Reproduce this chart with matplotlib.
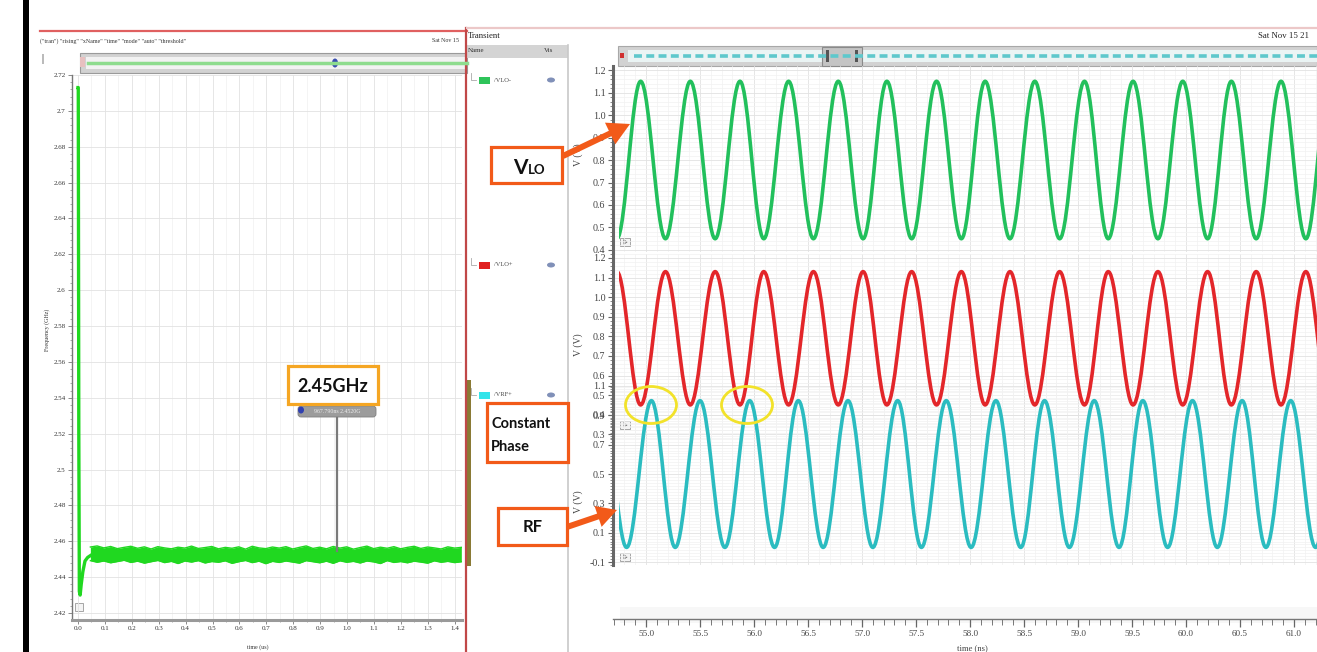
import numpy as np
import matplotlib
matplotlib.use("Agg")
import matplotlib.pyplot as plt
from matplotlib.patches import Rectangle, Ellipse, PathPatch, FancyArrow, FancyBboxPatch
from matplotlib.path import Path
from matplotlib.ticker import MultipleLocator

W, H = 1317, 652

# ---------------- data: left panel (frequency vs time, us) ----------------
freq_init_t = [0.000, 0.001, 0.003, 0.005, 0.008, 0.012, 0.018, 0.026, 0.036, 0.046]
freq_init_ghz = [2.713, 2.713, 2.520, 2.432, 2.430, 2.436, 2.443, 2.449, 2.451, 2.452]
band_upper_ghz = [2.4568, 2.4574, 2.4563, 2.4571, 2.4559, 2.4566, 2.4572, 2.4561, 2.4569, 2.4557,
                  2.4570, 2.4563, 2.4558, 2.4567, 2.4562, 2.4573, 2.4560, 2.4565, 2.4571, 2.4558,
                  2.4566, 2.4561, 2.4569, 2.4556, 2.4572, 2.4563, 2.4559, 2.4568, 2.4562, 2.4570,
                  2.4557, 2.4566, 2.4574, 2.4560, 2.4567, 2.4558, 2.4571, 2.4562, 2.4569, 2.4556,
                  2.4565, 2.4573, 2.4559, 2.4567, 2.4561, 2.4570, 2.4558, 2.4566, 2.4572, 2.4560,
                  2.4568, 2.4563, 2.4557, 2.4569, 2.4562, 2.4566]
band_lower_ghz = [2.4492, 2.4483, 2.4490, 2.4480, 2.4487, 2.4494, 2.4482, 2.4489, 2.4478, 2.4486,
                  2.4493, 2.4481, 2.4488, 2.4476, 2.4490, 2.4484, 2.4492, 2.4479, 2.4487, 2.4483,
                  2.4491, 2.4477, 2.4486, 2.4493, 2.4481, 2.4489, 2.4475, 2.4488, 2.4482, 2.4490,
                  2.4484, 2.4478, 2.4492, 2.4486, 2.4480, 2.4489, 2.4477, 2.4491, 2.4483, 2.4488,
                  2.4479, 2.4490, 2.4485, 2.4476, 2.4492, 2.4482, 2.4487, 2.4480, 2.4489, 2.4484,
                  2.4478, 2.4491, 2.4483, 2.4488, 2.4481, 2.4486]
band_t = np.linspace(0.046, 1.425, len(band_upper_ghz))
freq_yticks = [2.42, 2.44, 2.46, 2.48, 2.50, 2.52, 2.54, 2.56, 2.58, 2.60, 2.62, 2.64, 2.66, 2.68, 2.70, 2.72]
freq_ytick_labels = ["2.42", "2.44", "2.46", "2.48", "2.5", "2.52", "2.54", "2.56", "2.58", "2.6",
                     "2.62", "2.64", "2.66", "2.68", "2.7", "2.72"]
time_us_ticks = [0.0, 0.1, 0.2, 0.3, 0.4, 0.5, 0.6, 0.7, 0.8, 0.9, 1.0, 1.1, 1.2, 1.3, 1.4]
time_us_labels = ["0.0", "0.1", "0.2", "0.3", "0.4", "0.5", "0.6", "0.7", "0.8", "0.9",
                  "1.0", "1.1", "1.2", "1.3", "1.4"]

# ---------------- data: right panel (transient waveforms, ns) ----------------
vlo_minus_peak_t = [54.95, 55.41, 55.87, 56.32, 56.78, 57.23, 57.69, 58.14, 58.60, 59.06,
                    59.51, 59.97, 60.42, 60.88, 61.33]
vlo_minus_trough_t = [54.73, 55.18, 55.64, 56.09, 56.55, 57.01, 57.46, 57.92, 58.37, 58.83,
                      59.28, 59.74, 60.20, 60.65, 61.11]
vlo_minus_high, vlo_minus_low = 1.15, 0.45

vlo_plus_peak_t = [54.73, 55.18, 55.64, 56.09, 56.55, 57.01, 57.46, 57.92, 58.37, 58.83,
                   59.28, 59.74, 60.20, 60.65, 61.11]
vlo_plus_trough_t = [54.95, 55.41, 55.87, 56.32, 56.78, 57.23, 57.69, 58.14, 58.60, 59.06,
                     59.51, 59.97, 60.42, 60.88, 61.33]
vlo_plus_high, vlo_plus_low = 1.13, 0.45

vrf_peak_t = [54.59, 55.05, 55.50, 55.96, 56.41, 56.87, 57.33, 57.78, 58.24, 58.69,
              59.15, 59.60, 60.06, 60.52, 60.97, 61.43]
vrf_trough_t = [54.82, 55.27, 55.73, 56.19, 56.64, 57.10, 57.55, 58.01, 58.47, 58.92,
                59.38, 59.83, 60.29, 60.74, 61.20]
vrf_high, vrf_low = 1.00, 0.00

wave_start_t = 54.75
time_ns_ticks = [55.0, 55.5, 56.0, 56.5, 57.0, 57.5, 58.0, 58.5, 59.0, 59.5, 60.0, 60.5, 61.0]
time_ns_labels = ["55.0", "55.5", "56.0", "56.5", "57.0", "57.5", "58.0", "58.5", "59.0",
                  "59.5", "60.0", "60.5", "61.0"]
vlo_minus_yticks = [0.4, 0.5, 0.6, 0.7, 0.8, 0.9, 1.0, 1.1, 1.2]
vlo_plus_yticks = [0.3, 0.4, 0.5, 0.6, 0.7, 0.8, 0.9, 1.0, 1.1, 1.2]
vrf_yticks = [-0.1, 0.1, 0.3, 0.5, 0.7, 0.9, 1.1]

signal_names = ["/VLO-", "/VLO+", "/VRF+"]
signal_colors = ["#22c05c", "#e3262a", "#2bbcc0"]
legend_colors = ["#2ec45a", "#e02020", "#33e4ea"]

SERIF = "Liberation Serif"
BOLD = "Lato"
XLIM_NS = (54.694, 61.213)

fig = plt.figure(figsize=(W / 100, H / 100), dpi=100)
fig.patch.set_facecolor("white")


def px_axes(x0, y0, x1, y1):
    return fig.add_axes([x0 / W, 1 - y1 / H, (x1 - x0) / W, (y1 - y0) / H])


def overlay(z):
    a = px_axes(0, 0, W, H)
    a.set_xlim(0, W)
    a.set_ylim(H, 0)
    a.axis("off")
    a.set_zorder(z)
    a.patch.set_alpha(0)
    return a


bg = overlay(-5)
fg = overlay(10)

# ---------------- background decorations ----------------
bg.add_patch(Rectangle((23, 0), 6, H, fc="black", ec="none"))
bg.plot([40, 467], [31, 31], color="#e06060", lw=1.6)
bg.plot([466, 466], [28, H], color="#c04848", lw=1.6)
bg.add_patch(Rectangle((467, 380), 4, 186, fc="#8a7a35", ec="none"))
bg.text(40, 41, '("tran") "rising" "xName" "time" "mode" "auto" "threshold"', fontsize=4.3,
        family=SERIF, va="center", color="#333")
bg.text(432, 41, "Sat Nov 15", fontsize=4.3, family=SERIF, va="center", color="#333")
bg.add_patch(Rectangle((42, 54), 2, 10, fc="#bbbbbb", ec="none"))
# left scrollbar
bg.add_patch(Rectangle((80, 53), 387, 20, fc="#d2d2d2", ec="#9a9a9a", lw=0.8))
bg.add_patch(Rectangle((86, 57), 381, 12, fc="#f2f2f2", ec="none"))
bg.plot([88, 467], [63, 63], color="#8edc8e", lw=2.5)
bg.add_patch(Rectangle((80, 57), 5, 10, fc="#e8c0c0", ec="none"))
bg.add_patch(Ellipse((335, 63), 6, 9, fc="#3a4fb0", ec="none"))

# right panel frame
bg.plot([467, W], [28, 28], color="#ecc8c8", lw=1.6)
bg.text(468, 36, "Transient", fontsize=6.3, family=SERIF, va="center", color="#222")
bg.text(1258, 36, "Sat Nov 15 21", fontsize=6.3, family=SERIF, va="center", color="#222")
bg.add_patch(Rectangle((466, 45), 102, 13, fc="#d4d4d4", ec="none"))
bg.text(468, 51, "Name", fontsize=5, family=SERIF, va="center", color="#333")
bg.text(544, 51, "Vis", fontsize=5, family=SERIF, va="center", color="#333")
bg.plot([568, 568], [45, H], color="#c8c8c8", lw=1.2)
for name, col, yy in zip(signal_names, legend_colors, [80, 265, 395]):
    bg.plot([471, 471, 476], [yy - 7, yy, yy], color="#aaaaaa", lw=0.6)
    bg.add_patch(Rectangle((479, yy - 3.5), 11, 7, fc=col, ec="none"))
    bg.text(494, yy, name, fontsize=4.6, family=SERIF, va="center", color="#444")
    bg.add_patch(Ellipse((551, yy), 8, 5, fc="#8090b8", ec="none"))

# right scrollbar
bg.add_patch(Rectangle((618, 46), 699, 20, fc="#d2d2d2", ec="#a8a8a8", lw=0.8))
bg.add_patch(Rectangle((628, 50), 689, 12, fc="#eaf4f4", ec="none"))
bg.plot([634, W], [56, 56], color="#5ec8cc", lw=2.6, dashes=(2.2, 1.2))
bg.add_patch(Rectangle((822, 47), 40, 19, fc="#c4c4c4", ec="#8a8a8a", lw=0.8))
bg.add_patch(Rectangle((826, 50), 3, 12, fc="#555", ec="none"))
bg.add_patch(Rectangle((855, 50), 3, 12, fc="#555", ec="none"))
bg.add_patch(Rectangle((620, 53), 4, 5, fc="#d03030", ec="none"))
# faint ruler band
bg.add_patch(Rectangle((620, 607), W - 620, 16, fc="#f7f7f7", ec="none"))

# ---------------- left frequency plot ----------------
axL = px_axes(72, 75, 462, 620)
axL.set_facecolor("none")
axL.set_xlim(-0.0223, 1.4275)
axL.set_ylim(2.4161, 2.72)
axL.set_xticks(time_us_ticks)
axL.set_xticklabels(time_us_labels)
axL.set_yticks(freq_yticks)
axL.set_yticklabels(freq_ytick_labels)
axL.xaxis.set_minor_locator(MultipleLocator(0.05))
axL.yaxis.set_minor_locator(MultipleLocator(0.004))
axL.set_axisbelow(True)
axL.grid(which="major", color="#e2e2e2", lw=0.6)
axL.grid(which="minor", axis="x", color="#f0f0f0", lw=0.5)
for s in ["top", "right"]:
    axL.spines[s].set_visible(False)
axL.spines["left"].set_color("#777")
axL.spines["left"].set_linewidth(1.0)
axL.spines["bottom"].set_color("#9a9a9a")
axL.spines["bottom"].set_linewidth(2.2)
axL.tick_params(axis="both", which="major", labelsize=5, length=3, width=0.6, color="#777",
                pad=1.5, labelcolor="#333")
axL.tick_params(axis="both", which="minor", length=1.6, width=0.5, color="#888")
for lab in axL.get_xticklabels() + axL.get_yticklabels():
    lab.set_family(SERIF)
axL.plot(freq_init_t, freq_init_ghz, color="#20d820", lw=2.4, solid_joinstyle="round", zorder=3)
axL.fill_between(band_t, band_lower_ghz, band_upper_ghz, color="#20d820", lw=0, zorder=3)
axL.plot(band_t, band_upper_ghz, color="#20d820", lw=1.0, zorder=3)
axL.plot(band_t, band_lower_ghz, color="#20d820", lw=1.0, zorder=3)

bg.text(47, 330, "Frequency (GHz)", rotation=90, fontsize=4.3, family=SERIF, ha="center",
        va="center", color="#333")
bg.text(258, 647, "time (us)", fontsize=4.3, family=SERIF, ha="center", va="center", color="#333")
bg.add_patch(Rectangle((75, 603), 8, 8, fc="#f4f4f4", ec="#999", lw=0.6))

# ---------------- right transient plots ----------------
def wave_path(peak_t, trough_t, high, low):
    ext = sorted([(t, high) for t in peak_t] + [(t, low) for t in trough_t])
    verts = [ext[0]]
    codes = [Path.MOVETO]
    for (t0, v0), (t1, v1) in zip(ext[:-1], ext[1:]):
        d = 0.364 * (t1 - t0)
        verts += [(t0 + d, v0), (t1 - d, v1), (t1, v1)]
        codes += [Path.CURVE4] * 3
    return Path(verts, codes)


def style_wave_axes(ax, yticks, ylim):
    ax.set_facecolor("none")
    ax.set_xlim(*XLIM_NS)
    ax.set_ylim(*ylim)
    ax.set_yticks(yticks)
    ax.set_yticklabels([f"{v:.1f}" for v in yticks])
    ax.yaxis.set_minor_locator(MultipleLocator(0.02))
    ax.set_xticks(time_ns_ticks)
    ax.xaxis.set_minor_locator(MultipleLocator(0.1))
    ax.grid(which="major", color="#e2e2e2", lw=0.6)
    ax.grid(which="minor", color="#f2f2f2", lw=0.5)
    ax.tick_params(axis="x", which="both", length=0, labelbottom=False)
    ax.tick_params(axis="y", which="major", labelsize=7.2, length=3.5, width=0.8, color="#666",
                   pad=2, labelcolor="#444")
    ax.tick_params(axis="y", which="minor", length=2, width=0.6, color="#777")
    for lab in ax.get_yticklabels():
        lab.set_family(SERIF)
    for s in ["top", "right", "bottom"]:
        ax.spines[s].set_visible(False)
    ax.spines["left"].set_color("#666")
    ax.spines["left"].set_linewidth(2.2)


panel_boxes = [(613, 66, W, 252), (613, 254, W, 440), (613, 381, W, 565)]
panel_ylims = [(0.391, 1.218), (0.271, 1.220), (-0.120, 1.134)]
panel_yticks = [vlo_minus_yticks, vlo_plus_yticks, vrf_yticks]
panel_waves = [(vlo_minus_peak_t, vlo_minus_trough_t, vlo_minus_high, vlo_minus_low),
               (vlo_plus_peak_t, vlo_plus_trough_t, vlo_plus_high, vlo_plus_low),
               (vrf_peak_t, vrf_trough_t, vrf_high, vrf_low)]

# grid / tick axes (below)
for box, ylim, yt in zip(panel_boxes, panel_ylims, panel_yticks):
    ax = px_axes(*box)
    ax.set_zorder(0)
    style_wave_axes(ax, yt, ylim)

# curve axes (above all grids)
for box, ylim, (pk, tr, hi, lo), col in zip(panel_boxes, panel_ylims, panel_waves, signal_colors):
    ax = px_axes(*box)
    ax.set_zorder(2)
    ax.set_xlim(*XLIM_NS)
    ax.set_ylim(*ylim)
    ax.axis("off")
    ax.patch.set_alpha(0)
    patch = PathPatch(wave_path(pk, tr, hi, lo), fill=False, ec=col, lw=2.6,
                      capstyle="round", joinstyle="round")
    ax.add_patch(patch)
    patch.set_clip_path(Rectangle((wave_start_t, -5), 20, 10, transform=ax.transData))

# time ruler
axT = px_axes(613, 615, W, 619)
axT.set_facecolor("none")
axT.set_xlim(*XLIM_NS)
axT.set_yticks([])
axT.set_xticks(time_ns_ticks)
axT.set_xticklabels(time_ns_labels)
axT.xaxis.set_minor_locator(MultipleLocator(0.1))
for s in ["top", "right", "left"]:
    axT.spines[s].set_visible(False)
axT.spines["bottom"].set_color("#777")
axT.spines["bottom"].set_linewidth(1.0)
axT.tick_params(axis="x", which="major", labelsize=6.6, length=6, width=0.9, color="#666",
                pad=2, labelcolor="#444")
axT.tick_params(axis="x", which="minor", length=4, width=0.7, color="#777")
for lab in axT.get_xticklabels():
    lab.set_family(SERIF)
bg.text(972, 648, "time (ns)", fontsize=6.2, family=SERIF, ha="center", va="center", color="#444")

for yy in [155, 345, 502]:
    bg.text(578, yy, "V (V)", rotation=90, fontsize=7, family=SERIF, ha="center", va="center",
            color="#444")
for yy in [242, 425, 557]:
    bg.add_patch(Rectangle((620, yy - 4), 10, 8, fc="#f4f4f4", ec="#999", lw=0.6))
    bg.plot([624, 624, 627, 624], [yy - 2, yy + 2, yy, yy - 2], color="#666", lw=0.6)

# ---------------- foreground annotations ----------------
ORANGE = "#f25a19"
# marker on left plot
fg.plot([337, 337], [418, 551], color="#7a7a7a", lw=1.6)
fg.add_patch(FancyBboxPatch((298, 406), 78, 11, boxstyle="round,pad=0,rounding_size=3",
                            fc="#9c9c9c", ec="#808080", lw=0.6))
fg.text(337, 411.5, "967.790ns 2.4520G", fontsize=4.2, family=SERIF, ha="center", va="center",
        color="#eeeeee")
fg.add_patch(Ellipse((301, 410), 6, 7, fc="#3040b0", ec="none"))
fg.add_patch(Rectangle((288, 366), 90, 38, fc="white", ec="#f5a623", lw=2.3))
fg.text(333, 386, "2.45GHz", fontsize=13, family=BOLD, weight="bold", ha="center", va="center",
        color="#111")

# V_LO
fg.add_patch(Rectangle((491, 147), 71, 36, fc="white", ec=ORANGE, lw=2.3))
fg.text(528, 174, "V", fontsize=15, family=BOLD, weight="bold", ha="right", va="baseline",
        color="#111")
fg.text(528, 174, "LO", fontsize=9.5, family=BOLD, weight="bold", ha="left", va="baseline",
        color="#111")
fg.add_patch(FancyArrow(563, 156, 67, -32, width=6, head_width=24, head_length=22,
                        length_includes_head=True, fc=ORANGE, ec="none"))

# Constant Phase
fg.add_patch(Rectangle((487, 403), 81, 59, fc="white", ec=ORANGE, lw=2.3))
fg.text(491, 428, "Constant", fontsize=10.5, family=BOLD, weight="bold", ha="left",
        va="baseline", color="#111")
fg.text(491, 451, "Phase", fontsize=10.5, family=BOLD, weight="bold", ha="left",
        va="baseline", color="#111")

# RF
fg.add_patch(Rectangle((498, 508), 69, 37, fc="white", ec=ORANGE, lw=2.3))
fg.text(533, 527, "RF", fontsize=12, family=BOLD, weight="bold", ha="center", va="center",
        color="#111")
fg.add_patch(FancyArrow(567, 527, 50, -17, width=6, head_width=22, head_length=20,
                        length_includes_head=True, fc=ORANGE, ec="none"))

# yellow ellipses
for cx in [651, 747]:
    fg.add_patch(Ellipse((cx, 405), 51, 37, fill=False, ec="#f2e22a", lw=2.0))

fig.savefig("out.png", dpi=100, facecolor="white")
